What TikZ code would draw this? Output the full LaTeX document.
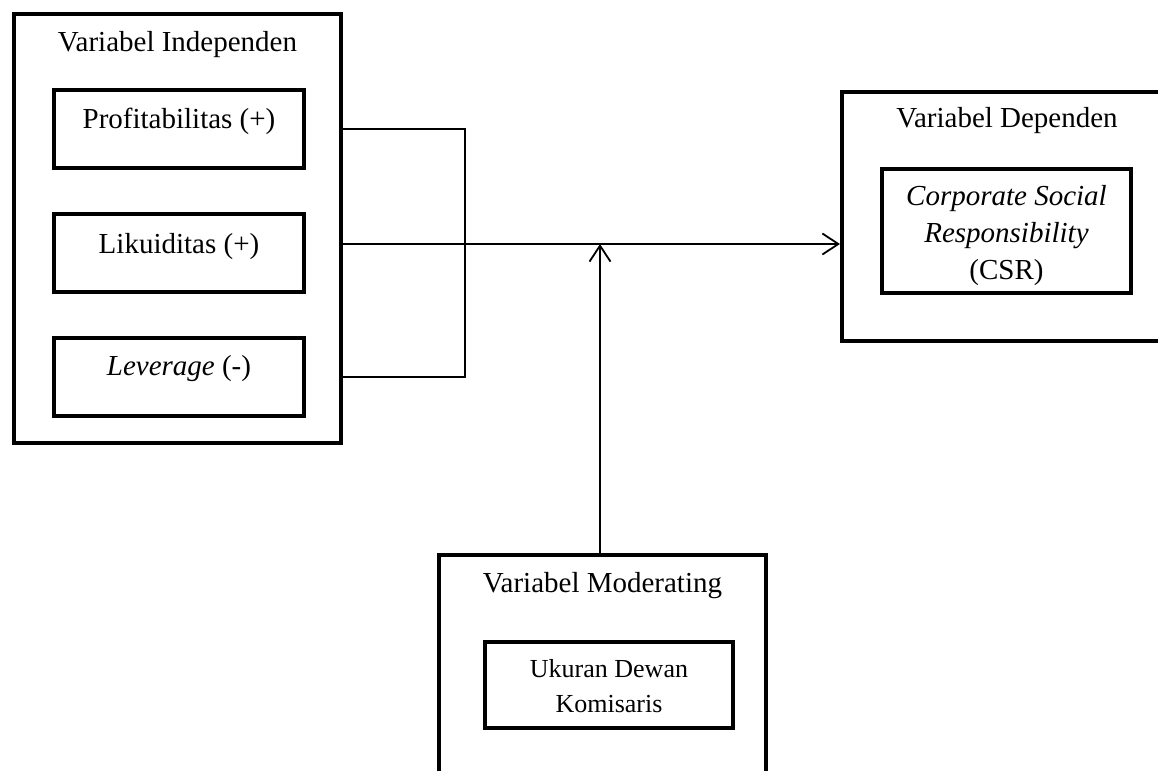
\documentclass[tikz,border=0pt]{standalone}
\usepackage{fontspec}
\setmainfont{Liberation Serif}
\usetikzlibrary{positioning,arrows.meta}

\begin{document}
\begin{tikzpicture} [
                x=0.5pt, y=-0.5pt,
                groupbox/.style={
                    rectangle,
                    draw,
                    line width=2pt,
                    minimum width=163.5pt
                },
                varbox/.style={
                    rectangle,
                    draw,
                    line width=2pt,
                    minimum width=125pt,
                    minimum height=39pt
                },
                boxtitle/.style={
                    anchor=base,
                    inner sep=0pt,
                    font=\fontsize{14.5}{18.5}\selectfont
                },
                boxtext/.style={
                    anchor=base,
                    inner sep=0pt,
                    align=center,
                    font=\fontsize{14.5}{18.5}\selectfont
                },
                link/.style={
                    line width=0.9pt
                },
                arrowlink/.style={
                    link,
                    -{Straight Barb[length=8pt, width=10.5pt, line width=0.9pt]}
                }
            ]

                \useasboundingbox (0,0) rectangle (1158,771);

                \node[groupbox, minimum height=214.5pt]     (indep)     at (177.5,228.5)    {};
                \node[boxtitle]     (indeptitle)    at ([yshift=-20pt]indep.north)      {Variabel Independen};

                \node[varbox]                       (profit)    at (179,129)                    {};
                \node[varbox]                       (likuid)    [below=21pt of profit]          {};
                \node[varbox]                       (leverage)  [below=21pt of likuid]          {};
                \node[boxtext]      (profittext)    at ([yshift=-20pt]profit.north)     {Profitabilitas (+)};
                \node[boxtext]      (likuidtext)    at ([yshift=-20.5pt]likuid.north)   {Likuiditas (+)};
                \node[boxtext]      (levertext)     at ([yshift=-19.5pt]leverage.north) {\textit{Leverage} (-)};

                \node[groupbox, minimum width=165pt, minimum height=124.5pt]   (dep)   at (1007,216.5)     {};
                \node[boxtitle]     (deptitle)      at ([yshift=-18.5pt]dep.north)      {Variabel Dependen};
                \node[varbox, minimum width=124.5pt, minimum height=62pt]       (csr)   at (1006.5,231)     {};
                \node[boxtext]      (csrtext)       at ([yshift=-56pt]csr.north)        {\textit{Corporate Social}\\\textit{Responsibility}\\(CSR)};

                \node[groupbox, minimum height=132.5pt]     (mod)       at (602.5,687.5)    {};
                \node[boxtitle]     (modtitle)      at ([yshift=-19.5pt]mod.north)      {Variabel Moderating};
                \node[varbox, minimum width=124pt, minimum height=43pt]         (kom)   at (609,685)        {};
                \node[boxtext, font=\fontsize{13}{17.5}\selectfont]    (komtext)   at ([yshift=-36pt]kom.north)    {Ukuran Dewan\\Komisaris};

                \coordinate (junc)      at (465,244);
                \coordinate (modjoin)   at (600,244);

                \draw[link]         (indep.east |- profit) -| (junc |- leverage) -- (indep.east |- leverage);
                \draw[arrowlink]    (indep.east |- junc) -- (dep.west |- junc);
                \draw[arrowlink]    (mod.north -| modjoin) -- (modjoin);

            \end{tikzpicture}
\end{document}
